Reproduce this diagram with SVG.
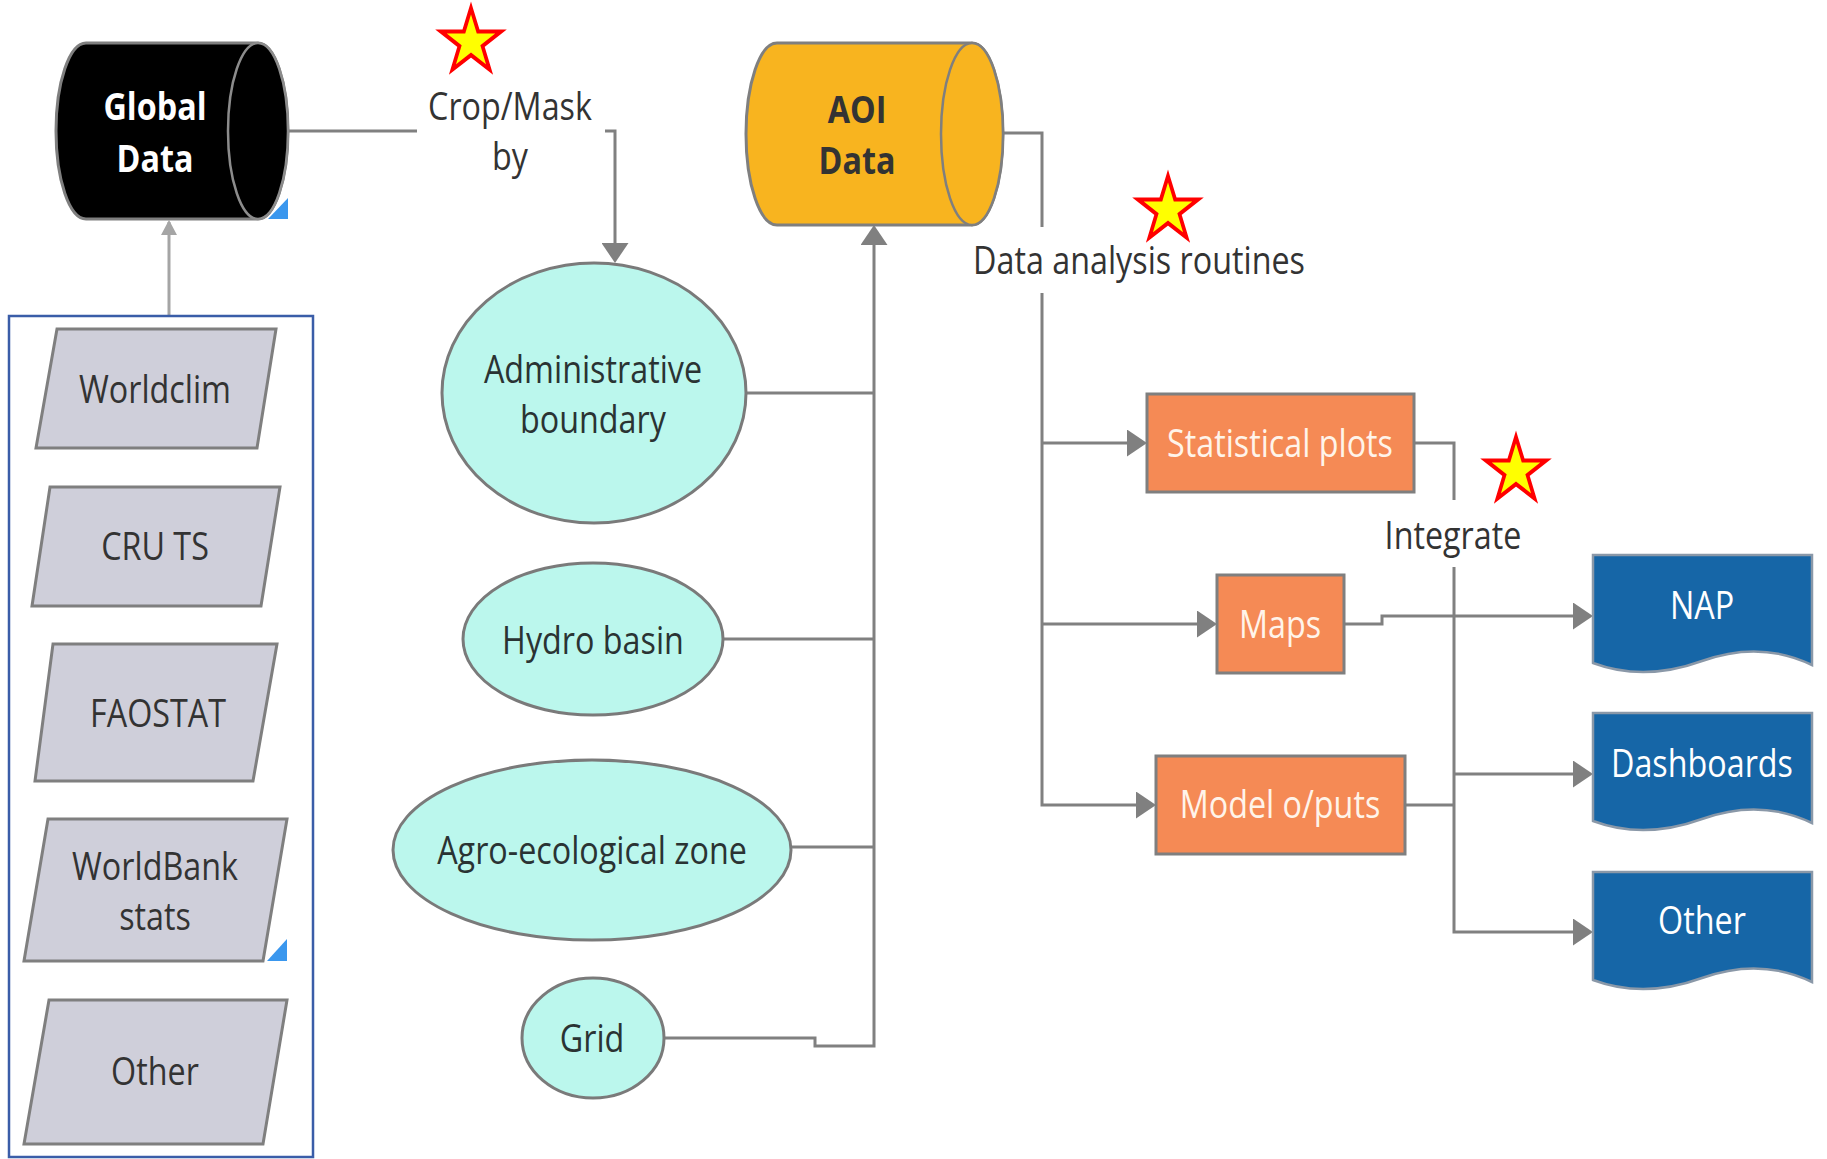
<svg xmlns="http://www.w3.org/2000/svg" xmlns:xlink="http://www.w3.org/1999/xlink" width="1827" height="1159" viewBox="0 0 1827 1159">
<style>
.t{font-family:"Open Sans","Noto Sans","DejaVu Sans",sans-serif;font-size:38px;fill:#333;text-anchor:middle}
.w{fill:#fff}
.cr{fill:#FFF4EA}
.b{font-weight:bold}
.dark{fill:#2a3333}
.con{fill:none;stroke:#808080;stroke-width:3}
.para{fill:#CFCFDA;stroke:#7F7F7F;stroke-width:3}
.ell{fill:#BBF7ED;stroke:#7A7A7A;stroke-width:3}
.org{fill:#F58A55;stroke:#7F7F7F;stroke-width:3}
.doc{fill:#1666A7;stroke:#8A98A8;stroke-width:2.5}
.star{fill:#FFFF00;stroke:#FF0000;stroke-width:4}
.tri{fill:#3A97EE}
</style>
<defs>
<marker id="arr" markerUnits="userSpaceOnUse" markerWidth="22" markerHeight="27" refX="17" refY="13.5" orient="auto">
<path d="M0,0 L20,13.5 L0,27 Z" fill="#808080"/>
</marker>
<marker id="arrL" markerUnits="userSpaceOnUse" markerWidth="18" markerHeight="18" refX="13" refY="8" orient="auto">
<path d="M0,0 L15,8 L0,16 Z" fill="#A5A5A5"/>
</marker>
<path id="star" d="M0,-34 L7.65,-10.53 L32.34,-10.51 L12.38,4.02 L19.98,27.51 L0,13.02 L-19.98,27.51 L-12.38,4.02 L-32.34,-10.51 L-7.65,-10.53 Z"/>
</defs>

<g id="connectors">
<path class="con" d="M288,131 H417"/>
<path class="con" d="M605,131 H615 V260" marker-end="url(#arr)"/>
<path d="M169,316 V222" fill="none" stroke="#A5A5A5" stroke-width="3" marker-end="url(#arrL)"/>
<path class="con" d="M746,393 H874"/>
<path class="con" d="M723,639 H874"/>
<path class="con" d="M791,847 H874"/>
<path class="con" d="M664,1038 H815 V1046 H874 V228" marker-end="url(#arr)"/>
<path class="con" d="M1003,133 H1042 V227"/>
<path class="con" d="M1042,293 V805 H1153" marker-end="url(#arr)"/>
<path class="con" d="M1042,443 H1144" marker-end="url(#arr)"/>
<path class="con" d="M1042,624 H1214" marker-end="url(#arr)"/>
<path class="con" d="M1414,443 H1454 V500"/>
<path class="con" d="M1454,567 V932 H1590" marker-end="url(#arr)"/>
<path class="con" d="M1344,624 H1382 V616 H1590" marker-end="url(#arr)"/>
<path class="con" d="M1405,805 H1454"/>
<path class="con" d="M1454,774 H1590" marker-end="url(#arr)"/>
</g>

<g id="global-data">
<path d="M86,43 H258 A30,88 0 0 1 258,219 H86 A30,88 0 0 1 86,43 Z" fill="#000" stroke="#7F7F7F" stroke-width="3"/>
<ellipse cx="258" cy="131" rx="30" ry="88" fill="#000" stroke="#8C8C8C" stroke-width="2.5"/>
<polygon class="tri" points="268,219 288,219 288,198"/>
<text class="t w b" transform="translate(155,120) scale(0.85,1)">Global</text>
<text class="t w b" transform="translate(155,172) scale(0.85,1)">Data</text>
</g>

<g id="label-crop">
<text class="t" transform="translate(510,120) scale(0.85,1)">Crop/Mask</text>
<text class="t" transform="translate(510,170) scale(0.85,1)">by</text>
<use href="#star" class="star" transform="translate(471,42) scale(0.93,1)"/>
</g>

<g id="sources">
<rect x="9" y="316" width="304" height="841" fill="none" stroke="#3A5DA8" stroke-width="2.5"/>
</g>
<g id="worldclim">
<polygon class="para" points="57,329 276,329 257,448 36,448"/>
<text class="t" transform="translate(155,403) scale(0.85,1)">Worldclim</text>
</g>
<g id="cru-ts">
<polygon class="para" points="50,487 280,487 261,606 32,606"/>
<text class="t" transform="translate(155,560) scale(0.85,1)">CRU TS</text>
</g>
<g id="faostat">
<polygon class="para" points="53,644 277,644 253,781 35,781"/>
<text class="t" transform="translate(158,727) scale(0.85,1)">FAOSTAT</text>
</g>
<g id="worldbank">
<polygon class="para" points="48,819 287,819 263,961 24,961"/>
<polygon class="tri" points="267,961 287,961 287,939"/>
<text class="t" transform="translate(155,880) scale(0.85,1)">WorldBank</text>
<text class="t" transform="translate(155,930) scale(0.85,1)">stats</text>
</g>
<g id="other-source">
<polygon class="para" points="49,1000 287,1000 263,1144 24,1144"/>
<text class="t" transform="translate(155,1085) scale(0.85,1)">Other</text>
</g>

<g id="admin-boundary">
<ellipse class="ell" cx="594" cy="393" rx="152" ry="130"/>
<text class="t dark" transform="translate(593,383) scale(0.85,1)">Administrative</text>
<text class="t dark" transform="translate(593,433) scale(0.85,1)">boundary</text>
</g>
<g id="hydro-basin">
<ellipse class="ell" cx="593" cy="639" rx="130" ry="76"/>
<text class="t dark" transform="translate(593,654) scale(0.85,1)">Hydro basin</text>
</g>
<g id="agro-zone">
<ellipse class="ell" cx="592" cy="850" rx="199" ry="90"/>
<text class="t dark" transform="translate(592,864) scale(0.85,1)">Agro-ecological zone</text>
</g>
<g id="grid">
<ellipse class="ell" cx="593" cy="1038" rx="71" ry="60"/>
<text class="t dark" transform="translate(592,1052) scale(0.85,1)">Grid</text>
</g>

<g id="aoi-data">
<path d="M777,43 H972 A31,91 0 0 1 972,225 H777 A31,91 0 0 1 777,43 Z" fill="#F8B41F" stroke="#7F7F7F" stroke-width="3"/>
<ellipse cx="972" cy="134" rx="31" ry="91" fill="#F8B41F" stroke="#7F7F7F" stroke-width="2.5"/>
<text class="t b" transform="translate(857,123) scale(0.85,1)">AOI</text>
<text class="t b" transform="translate(857,174) scale(0.85,1)">Data</text>
</g>

<g id="label-routines">
<text class="t" transform="translate(1139,274) scale(0.85,1)">Data analysis routines</text>
<use href="#star" class="star" transform="translate(1168,210) scale(0.93,1)"/>
</g>

<g id="statistical-plots">
<rect class="org" x="1147" y="394" width="267" height="98"/>
<text class="t cr" transform="translate(1280,457) scale(0.85,1)">Statistical plots</text>
</g>
<g id="maps">
<rect class="org" x="1217" y="575" width="127" height="98"/>
<text class="t cr" transform="translate(1280,638) scale(0.85,1)">Maps</text>
</g>
<g id="model-outputs">
<rect class="org" x="1156" y="756" width="249" height="98"/>
<text class="t cr" transform="translate(1280,818) scale(0.85,1)">Model o/puts</text>
</g>

<g id="label-integrate">
<text class="t" transform="translate(1453,549) scale(0.85,1)">Integrate</text>
<use href="#star" class="star" transform="translate(1516,471) scale(0.93,1)"/>
</g>

<g id="nap">
<path class="doc" d="M1593,555 H1812 V665 Q1760,640 1702,661 T1593,663 Z"/>
<text class="t w" transform="translate(1702,619) scale(0.85,1)">NAP</text>
</g>
<g id="dashboards">
<path class="doc" d="M1593,713 H1812 V823 Q1760,798 1702,819 T1593,821 Z"/>
<text class="t w" transform="translate(1702,777) scale(0.85,1)">Dashboards</text>
</g>
<g id="other-output">
<path class="doc" d="M1593,872 H1812 V982 Q1760,957 1702,978 T1593,980 Z"/>
<text class="t w" transform="translate(1702,934) scale(0.85,1)">Other</text>
</g>
</svg>
